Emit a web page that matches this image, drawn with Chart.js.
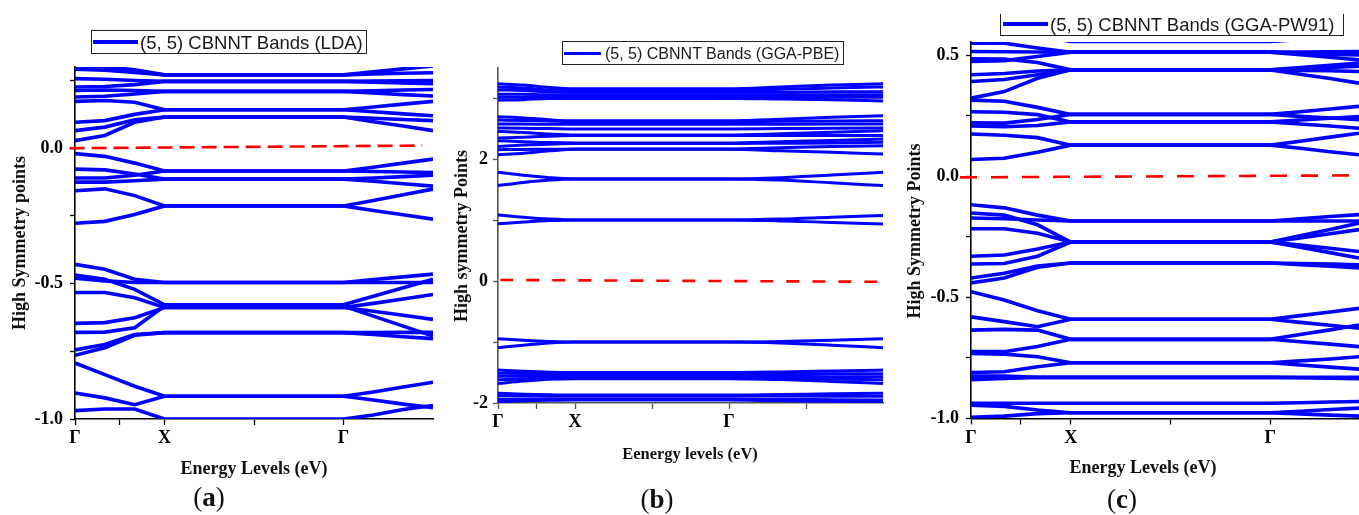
<!DOCTYPE html>
<html><head><meta charset="utf-8">
<script src="https://cdn.jsdelivr.net/npm/chart.js@4.4.0/dist/chart.umd.min.js"></script>
<style>
html,body{margin:0;padding:0;background:#fff;}
#wrap{position:relative;width:1359px;height:515px;overflow:hidden;background:#fff;}
canvas{position:absolute;top:0;}
.leg{position:absolute;border:1px solid #222;box-sizing:border-box;font-family:"Liberation Sans",Arial,sans-serif;color:#1a1a1a;white-space:nowrap;}
.leg .ln{position:absolute;background:#0000ff;}
.leg .tx{position:absolute;line-height:1;}
.xt{position:absolute;font-family:"Liberation Serif","Times New Roman",serif;font-weight:bold;line-height:1;white-space:nowrap;text-align:center;width:300px;color:#111;}
.yt{position:absolute;font-family:"Liberation Serif","Times New Roman",serif;font-weight:bold;line-height:1;white-space:nowrap;text-align:center;width:300px;transform:rotate(-90deg);color:#111;}
.pl{position:absolute;font-family:"Liberation Serif","Times New Roman",serif;font-size:27px;line-height:1;width:60px;text-align:center;color:#111;}
</style></head>
<body>
<div id="wrap">
<canvas id="cA" width="450" height="515" style="left:0px"></canvas>
<canvas id="cB" width="450" height="515" style="left:450px"></canvas>
<canvas id="cC" width="459" height="515" style="left:900px"></canvas>

<div class="leg" style="left:91px;top:30px;width:276px;height:24px;">
  <div class="ln" style="left:1px;top:9px;width:45px;height:4px;"></div>
  <div class="tx" style="left:48px;top:3px;font-size:18.5px;">(5, 5) CBNNT Bands (LDA)</div>
</div>
<div class="leg" style="left:562px;top:41px;width:282px;height:24px;">
  <div class="ln" style="left:1px;top:9.5px;width:37px;height:3px;"></div>
  <div class="tx" style="left:42px;top:4px;font-size:16px;">(5, 5) CBNNT Bands (GGA-PBE)</div>
</div>
<div class="leg" style="left:1000px;top:14px;width:344px;height:22px;border-top:none;">
  <div class="ln" style="left:2px;top:8px;width:45px;height:4px;"></div>
  <div class="tx" style="left:49px;top:2px;font-size:18.5px;">(5, 5) CBNNT Bands (GGA-PW91)</div>
</div>

<div class="xt" style="left:104px;top:459px;font-size:18px;">Energy Levels (eV)</div>
<div class="xt" style="left:540px;top:446px;font-size:16.5px;">Eenergy levels (eV)</div>
<div class="xt" style="left:993px;top:458px;font-size:18px;">Energy Levels (eV)</div>

<div class="yt" style="left:-131px;top:234px;font-size:18px;">High Symmetry points</div>
<div class="yt" style="left:311px;top:227px;font-size:18px;">High symmetry Points</div>
<div class="yt" style="left:764px;top:222px;font-size:18px;">High Symmetry Points</div>

<div class="pl" style="left:179px;top:484px;">(<b>a</b>)</div>
<div class="pl" style="left:627px;top:486px;">(<b>b</b>)</div>
<div class="pl" style="left:1092px;top:486px;">(<b>c</b>)</div>
</div>

<script>
// ---------- Panel (a): LDA ----------
const ldaX = [0, 0.333, 0.667, 1, 2, 3, 3.333, 3.667, 4];
const ldaCond = [
  [0.304, 0.300, 0.290, 0.271, 0.271, 0.271, 0.282, 0.293, 0.304],
  [0.292, 0.288, 0.280, 0.271, 0.271, 0.271, 0.274, 0.277, 0.279],
  [0.257, 0.255, 0.250, 0.247, 0.247, 0.247, 0.248, 0.249, 0.250],
  [0.226, 0.228, 0.235, 0.247, 0.247, 0.247, 0.244, 0.241, 0.238],
  [0.213, 0.215, 0.213, 0.210, 0.210, 0.210, 0.212, 0.215, 0.217],
  [0.189, 0.192, 0.200, 0.210, 0.210, 0.210, 0.204, 0.198, 0.193],
  [0.173, 0.176, 0.170, 0.142, 0.142, 0.142, 0.152, 0.163, 0.173],
  [0.096, 0.102, 0.125, 0.142, 0.142, 0.142, 0.135, 0.127, 0.120],
  [0.065, 0.078, 0.105, 0.115, 0.115, 0.115, 0.098, 0.082, 0.065],
  [0.028, 0.047, 0.096, 0.115, 0.115, 0.115, 0.111, 0.106, 0.102]
];
const ldaVal = [
  [-0.020, -0.030, -0.055, -0.084, -0.084, -0.084, -0.070, -0.055, -0.040],
  [-0.077, -0.080, -0.095, -0.114, -0.114, -0.114, -0.110, -0.105, -0.100],
  [-0.110, -0.110, -0.100, -0.084, -0.084, -0.084, -0.086, -0.088, -0.090],
  [-0.125, -0.125, -0.120, -0.114, -0.114, -0.114, -0.122, -0.131, -0.140],
  [-0.157, -0.150, -0.175, -0.213, -0.213, -0.213, -0.193, -0.172, -0.151],
  [-0.277, -0.270, -0.245, -0.213, -0.213, -0.213, -0.230, -0.246, -0.262],
  [-0.429, -0.447, -0.484, -0.496, -0.496, -0.496, -0.485, -0.475, -0.465],
  [-0.468, -0.484, -0.521, -0.578, -0.578, -0.578, -0.547, -0.515, -0.484],
  [-0.480, -0.490, -0.496, -0.496, -0.496, -0.496, -0.496, -0.496, -0.496],
  [-0.533, -0.533, -0.552, -0.588, -0.588, -0.588, -0.573, -0.557, -0.540],
  [-0.647, -0.644, -0.626, -0.588, -0.588, -0.588, -0.602, -0.617, -0.632],
  [-0.680, -0.679, -0.663, -0.583, -0.583, -0.583, -0.620, -0.657, -0.694],
  [-0.745, -0.725, -0.688, -0.681, -0.681, -0.681, -0.681, -0.680, -0.680],
  [-0.765, -0.737, -0.691, -0.681, -0.681, -0.681, -0.688, -0.696, -0.703],
  [-0.793, -0.836, -0.879, -0.916, -0.916, -0.916, -0.900, -0.882, -0.864],
  [-0.904, -0.922, -0.947, -0.916, -0.916, -0.916, -0.930, -0.945, -0.958],
  [-0.969, -0.963, -0.963, -1.000, -1.000, -1.000, -0.985, -0.965, -0.950]
];
const ldaFermiX = [-0.06, 3.88];
const ldaFermiY = [0.0, 0.01];
const ldaXTicks = [0, 0.5, 1, 2, 3];
const ldaXLabels = ['Γ', '', 'X', '', 'Γ'];
const ldaYTicks = [-1.0, -0.75, -0.5, -0.25, 0.0, 0.25];
const ldaYLabels = ['-1.0', '', '-0.5', '', '0.0', ''];

// ---------- Panel (b): GGA-PBE ----------
const pbeX = [0, 0.333, 0.667, 1, 2, 3, 3.667, 4.333, 5];
const pbeCond = [
  [3.24, 3.22, 3.18, 3.16, 3.16, 3.16, 3.19, 3.22, 3.24],
  [3.19, 3.17, 3.14, 3.13, 3.13, 3.13, 3.15, 3.17, 3.19],
  [3.14, 3.13, 3.11, 3.10, 3.10, 3.10, 3.10, 3.11, 3.11],
  [3.07, 3.07, 3.06, 3.06, 3.06, 3.06, 3.06, 3.06, 3.06],
  [3.02, 3.02, 3.02, 3.02, 3.02, 3.02, 3.02, 3.02, 3.02],
  [2.97, 2.98, 3.00, 3.00, 3.00, 3.00, 2.99, 2.98, 2.96],
  [2.70, 2.68, 2.65, 2.634, 2.634, 2.634, 2.66, 2.69, 2.716],
  [2.646, 2.64, 2.63, 2.62, 2.62, 2.62, 2.625, 2.63, 2.634],
  [2.58, 2.58, 2.575, 2.575, 2.575, 2.575, 2.577, 2.579, 2.58],
  [2.515, 2.51, 2.505, 2.50, 2.50, 2.50, 2.505, 2.51, 2.515],
  [2.459, 2.44, 2.415, 2.40, 2.40, 2.40, 2.42, 2.445, 2.47],
  [2.351, 2.365, 2.38, 2.39, 2.39, 2.39, 2.39, 2.39, 2.39],
  [2.307, 2.29, 2.275, 2.27, 2.27, 2.27, 2.29, 2.31, 2.334],
  [2.213, 2.235, 2.25, 2.26, 2.26, 2.26, 2.265, 2.27, 2.279],
  [2.159, 2.163, 2.166, 2.17, 2.17, 2.17, 2.19, 2.21, 2.225],
  [2.077, 2.10, 2.14, 2.165, 2.165, 2.165, 2.14, 2.115, 2.089],
  [1.787, 1.74, 1.70, 1.679, 1.679, 1.679, 1.70, 1.745, 1.787],
  [1.569, 1.62, 1.66, 1.679, 1.679, 1.679, 1.66, 1.615, 1.569],
  [1.088, 1.05, 1.02, 1.006, 1.006, 1.006, 1.02, 1.05, 1.077],
  [0.941, 0.97, 0.995, 1.006, 1.006, 1.006, 0.99, 0.965, 0.940]
];
const pbeVal = [
  [-0.944, -0.97, -0.99, -1.0, -1.0, -1.0, -0.99, -0.97, -0.944],
  [-1.092, -1.05, -1.015, -1.0, -1.0, -1.0, -1.015, -1.05, -1.092],
  [-1.46, -1.48, -1.495, -1.50, -1.50, -1.50, -1.49, -1.475, -1.46],
  [-1.51, -1.515, -1.52, -1.52, -1.52, -1.52, -1.52, -1.52, -1.52],
  [-1.56, -1.56, -1.56, -1.56, -1.56, -1.56, -1.563, -1.567, -1.57],
  [-1.62, -1.60, -1.585, -1.58, -1.58, -1.58, -1.59, -1.605, -1.62],
  [-1.68, -1.64, -1.61, -1.60, -1.60, -1.60, -1.615, -1.645, -1.68],
  [-1.84, -1.855, -1.865, -1.87, -1.87, -1.87, -1.86, -1.85, -1.84],
  [-1.88, -1.88, -1.88, -1.88, -1.88, -1.88, -1.885, -1.888, -1.89],
  [-1.94, -1.935, -1.93, -1.93, -1.93, -1.93, -1.94, -1.945, -1.95],
  [-1.98, -1.965, -1.955, -1.95, -1.95, -1.95, -1.965, -1.972, -1.98]
];
const pbeFermiX = [0.03, 5];
const pbeFermiY = [0.02, -0.01];
const pbeXTicks = [0, 0.5, 1, 2, 3, 4];
const pbeXLabels = ['Γ', '', 'X', '', 'Γ', ''];
const pbeYTicks = [-2, -1, 0, 1, 2, 3];
const pbeYLabels = ['-2', '', '0', '', '2', ''];

// ---------- Panel (c): GGA-PW91 ----------
const pw91X = [0, 0.333, 0.667, 1, 2, 3, 3.3, 3.6, 3.89];
const pw91Cond = [
  [0.620, 0.600, 0.580, 0.557, 0.557, 0.557, 0.565, 0.575, 0.590],
  [0.550, 0.550, 0.530, 0.513, 0.513, 0.513, 0.514, 0.515, 0.516],
  [0.516, 0.515, 0.514, 0.513, 0.513, 0.513, 0.509, 0.505, 0.502],
  [0.486, 0.485, 0.470, 0.440, 0.440, 0.440, 0.438, 0.436, 0.433],
  [0.475, 0.478, 0.495, 0.513, 0.513, 0.513, 0.503, 0.492, 0.481],
  [0.420, 0.425, 0.435, 0.440, 0.440, 0.440, 0.450, 0.459, 0.468],
  [0.392, 0.400, 0.420, 0.440, 0.440, 0.440, 0.422, 0.404, 0.385],
  [0.323, 0.350, 0.405, 0.440, 0.440, 0.440, 0.445, 0.450, 0.455],
  [0.315, 0.310, 0.285, 0.256, 0.256, 0.256, 0.267, 0.278, 0.289],
  [0.267, 0.265, 0.255, 0.225, 0.225, 0.225, 0.233, 0.240, 0.247],
  [0.221, 0.220, 0.235, 0.256, 0.256, 0.256, 0.248, 0.241, 0.234],
  [0.208, 0.205, 0.210, 0.225, 0.225, 0.225, 0.216, 0.208, 0.199],
  [0.175, 0.170, 0.160, 0.129, 0.129, 0.129, 0.145, 0.162, 0.178],
  [0.070, 0.075, 0.100, 0.129, 0.129, 0.129, 0.116, 0.102, 0.089]
];
const pw91Val = [
  [-0.117, -0.130, -0.160, -0.184, -0.184, -0.184, -0.175, -0.166, -0.158],
  [-0.151, -0.160, -0.200, -0.271, -0.271, -0.271, -0.245, -0.219, -0.193],
  [-0.172, -0.175, -0.180, -0.184, -0.184, -0.184, -0.184, -0.184, -0.184],
  [-0.216, -0.216, -0.235, -0.271, -0.271, -0.271, -0.254, -0.237, -0.220],
  [-0.330, -0.325, -0.300, -0.271, -0.271, -0.271, -0.284, -0.297, -0.310],
  [-0.362, -0.360, -0.330, -0.271, -0.271, -0.271, -0.293, -0.315, -0.337],
  [-0.420, -0.400, -0.370, -0.358, -0.358, -0.358, -0.360, -0.362, -0.365],
  [-0.440, -0.420, -0.375, -0.358, -0.358, -0.358, -0.365, -0.371, -0.378],
  [-0.476, -0.511, -0.555, -0.590, -0.590, -0.590, -0.575, -0.560, -0.545],
  [-0.580, -0.600, -0.621, -0.590, -0.590, -0.590, -0.603, -0.615, -0.627],
  [-0.635, -0.632, -0.635, -0.673, -0.673, -0.673, -0.653, -0.634, -0.614],
  [-0.724, -0.724, -0.703, -0.673, -0.673, -0.673, -0.683, -0.693, -0.703],
  [-0.731, -0.734, -0.745, -0.770, -0.770, -0.770, -0.779, -0.788, -0.796],
  [-0.810, -0.807, -0.786, -0.770, -0.770, -0.770, -0.762, -0.754, -0.745],
  [-0.825, -0.825, -0.830, -0.830, -0.830, -0.830, -0.830, -0.830, -0.830],
  [-0.840, -0.835, -0.830, -0.830, -0.830, -0.830, -0.832, -0.834, -0.836],
  [-0.937, -0.937, -0.937, -0.937, -0.937, -0.937, -0.935, -0.932, -0.930],
  [-0.945, -0.950, -0.965, -0.976, -0.976, -0.976, -0.970, -0.963, -0.957],
  [-0.995, -0.990, -0.980, -0.976, -0.976, -0.976, -0.981, -0.986, -0.990]
];
const pw91FermiX = [-0.11, 3.82];
const pw91FermiY = [-0.004, 0.004];
const pw91XTicks = [0, 0.5, 1, 2, 3];
const pw91XLabels = ['Γ', '', 'X', '', 'Γ'];
const pw91YTicks = [-1.0, -0.75, -0.5, -0.25, 0.0, 0.25, 0.5];
const pw91YLabels = ['-1.0', '', '-0.5', '', '0.0', '', '0.5'];

// ---------- drawing ----------
const TICK_FONT = {family: '"Liberation Serif", "Times New Roman", serif', size: 18, weight: 'bold'};

function buildChart(canvasId, xs, bands, fermiX, fermiY, o) {
  const datasets = bands.map(b => ({
    data: xs.map((x, i) => ({x: x, y: b[i]})),
    borderColor: '#0000ff',
    borderWidth: o.lw,
    pointRadius: 0,
    fill: false,
    tension: o.tension,
    cubicInterpolationMode: o.cubic ? 'monotone' : 'default'
  }));
  datasets.push({
    data: fermiX.map((x, i) => ({x: x, y: fermiY[i]})),
    borderColor: '#ff0000',
    borderWidth: 2.6,
    borderDash: o.dash,
    pointRadius: 0,
    fill: false,
    clip: false
  });
  return new Chart(document.getElementById(canvasId), {
    type: 'line',
    data: {datasets: datasets},
    options: {
      responsive: false,
      animation: false,
      events: [],
      layout: {autoPadding: false, padding: o.pad},
      plugins: {legend: {display: false}, tooltip: {enabled: false}},
      scales: {
        x: {
          type: 'linear', min: o.xMin, max: o.xMax,
          afterBuildTicks: s => { s.ticks = o.xTicks.map(v => ({value: v})); },
          afterFit: s => { s.height = 30; },
          ticks: {
            autoSkip: false, maxRotation: 0, padding: 3, color: '#000', font: TICK_FONT,
            callback: (v, i) => o.xLabels[i]
          },
          grid: {drawOnChartArea: false, tickLength: 6, color: o.axisColor, tickWidth: 1.3},
          border: {display: true, color: o.axisColor, width: 1.6}
        },
        y: {
          type: 'linear', min: o.yMin, max: o.yMax,
          afterBuildTicks: s => { s.ticks = o.yTicks.map(v => ({value: v})); },
          afterFit: s => { s.width = o.yW; },
          ticks: {
            autoSkip: false, padding: o.yPad, color: '#000', font: TICK_FONT,
            callback: (v, i) => o.yLabels[i]
          },
          grid: {drawOnChartArea: false, tickLength: 5, color: o.axisColor, tickWidth: 1.3},
          border: {display: true, color: o.axisColor, width: 1.6}
        }
      }
    }
  });
}

buildChart('cA', ldaX, ldaCond.concat(ldaVal), ldaFermiX, ldaFermiY, {
  lw: 3.6, tension: 0, cubic: false, dash: [15, 7],
  pad: {left: 0, right: 17, top: 67, bottom: 66},
  xMin: 0, xMax: 4, yMin: -1.0, yMax: 0.3, yW: 75, yPad: 7,
  xTicks: ldaXTicks, xLabels: ldaXLabels, yTicks: ldaYTicks, yLabels: ldaYLabels,
  axisColor: '#000'
});
buildChart('cB', pbeX, pbeCond.concat(pbeVal), pbeFermiX, pbeFermiY, {
  lw: 3, tension: 0.4, cubic: true, dash: [13, 13],
  pad: {left: 0, right: 17, top: 68, bottom: 82},
  xMin: 0, xMax: 5, yMin: -2, yMax: 3.5, yW: 48, yPad: 5,
  xTicks: pbeXTicks, xLabels: pbeXLabels, yTicks: pbeYTicks, yLabels: pbeYLabels,
  axisColor: '#555'
});
buildChart('cC', pw91X, pw91Cond.concat(pw91Val), pw91FermiX, pw91FermiY, {
  lw: 3.6, tension: 0, cubic: false, dash: [17, 14],
  pad: {left: 0, right: 0, top: 42, bottom: 66.5},
  xMin: 0, xMax: 3.89, yMin: -1.0, yMax: 0.555, yW: 71, yPad: 7,
  xTicks: pw91XTicks, xLabels: pw91XLabels, yTicks: pw91YTicks, yLabels: pw91YLabels,
  axisColor: '#000'
});
</script>
</body></html>
